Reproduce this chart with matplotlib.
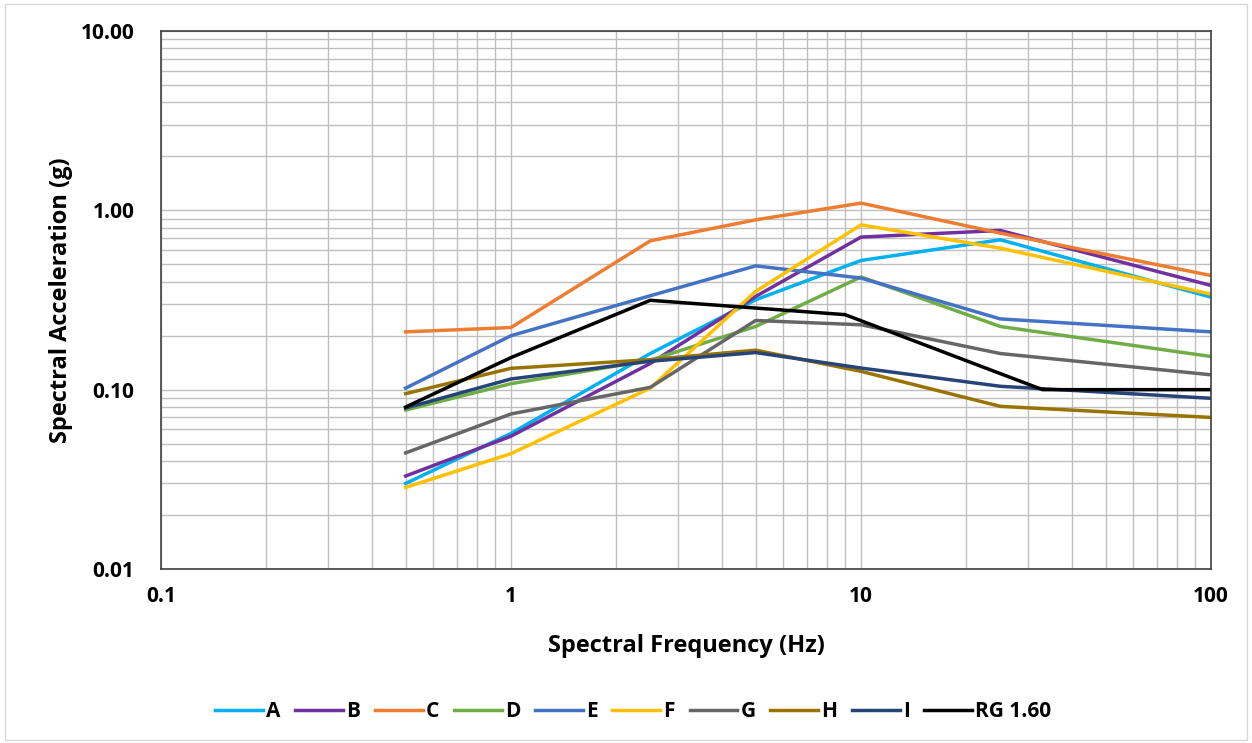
import matplotlib.pyplot as plt
from matplotlib.ticker import FixedLocator, LogLocator, NullFormatter, FuncFormatter
from matplotlib.patches import Rectangle

plt.rcParams['font.family'] = ['Open Sans', 'DejaVu Sans']
plt.rcParams['font.weight'] = 'bold'

# frequencies (Hz) shared by the A..I spectra
freq = [0.5, 1, 2.5, 5, 10, 25, 100]

A = [0.030, 0.057, 0.159, 0.317, 0.525, 0.685, 0.328]
B = [0.033, 0.055, 0.140, 0.331, 0.709, 0.772, 0.381]
C = [0.210, 0.222, 0.676, 0.885, 1.097, 0.746, 0.433]
D = [0.077, 0.108, 0.146, 0.225, 0.425, 0.225, 0.153]
E = [0.102, 0.200, 0.334, 0.490, 0.419, 0.248, 0.210]
F = [0.0285, 0.044, 0.102, 0.353, 0.830, 0.615, 0.341]
G = [0.0444, 0.0732, 0.103, 0.243, 0.230, 0.159, 0.121]
H = [0.095, 0.1315, 0.147, 0.166, 0.1265, 0.0807, 0.070]
I = [0.079, 0.1147, 0.144, 0.161, 0.132, 0.1044, 0.0895]

# RG 1.60 target spectrum
rg_freq = [0.5, 1, 2.5, 9, 33, 100]
rg_sa = [0.080, 0.151, 0.315, 0.262, 0.100, 0.100]

series = [
    ('A', A, '#00B0F0'),
    ('B', B, '#7030A0'),
    ('C', C, '#ED7D31'),
    ('D', D, '#70AD47'),
    ('E', E, '#4472C4'),
    ('F', F, '#FFC000'),
    ('G', G, '#666666'),
    ('H', H, '#997300'),
    ('I', I, '#264478'),
]

fig = plt.figure(figsize=(12.52, 7.43), dpi=100)
ax = fig.add_axes([0.1286, 0.2342, 0.8387, 0.7241])

for name, vals, col in series:
    ax.plot(freq, vals, color=col, lw=2.5, label=name)
ax.plot(rg_freq, rg_sa, color='black', lw=2.5, label='RG 1.60')

ax.set_xscale('log')
ax.set_yscale('log')
ax.set_xlim(0.1, 100)
ax.set_ylim(0.01, 10)

ax.xaxis.set_major_locator(FixedLocator([0.1, 1, 10, 100]))
ax.xaxis.set_major_formatter(FuncFormatter(lambda v, p: f'{v:g}'))
ax.yaxis.set_major_locator(FixedLocator([0.01, 0.1, 1, 10]))
ax.yaxis.set_major_formatter(FuncFormatter(lambda v, p: f'{v:.2f}'))
for axis in (ax.xaxis, ax.yaxis):
    axis.set_minor_locator(LogLocator(base=10, subs=range(2, 10), numticks=20))
    axis.set_minor_formatter(NullFormatter())

ax.grid(True, which='both', color='#bfbfbf', lw=1.0)
ax.set_axisbelow(True)
ax.tick_params(which='both', length=0, labelsize=15)
ax.tick_params(axis='y', pad=19)
ax.tick_params(axis='x', pad=12)
for lab in ax.get_xticklabels() + ax.get_yticklabels():
    lab.set_fontweight('bold')
for sp in ax.spines.values():
    sp.set_color('#404040')
    sp.set_linewidth(1.2)

ax.set_xlabel('Spectral Frequency (Hz)', fontsize=17, fontweight='bold', labelpad=20)
ax.set_ylabel('Spectral Acceleration (g)', fontsize=17, fontweight='bold', labelpad=6)

leg = fig.legend(loc='center', bbox_to_anchor=(0.506, 0.042), ncol=10, frameon=False,
                 fontsize=15, handlelength=2.3, columnspacing=0.7, handletextpad=0.15)
for t in leg.get_texts():
    t.set_fontweight('bold')

fig.patches.append(Rectangle((0.004, 0.004), 0.992, 0.99, transform=fig.transFigure,
                             fill=False, edgecolor='#d9d9d9', lw=1))

fig.savefig('out.png', dpi=100)
